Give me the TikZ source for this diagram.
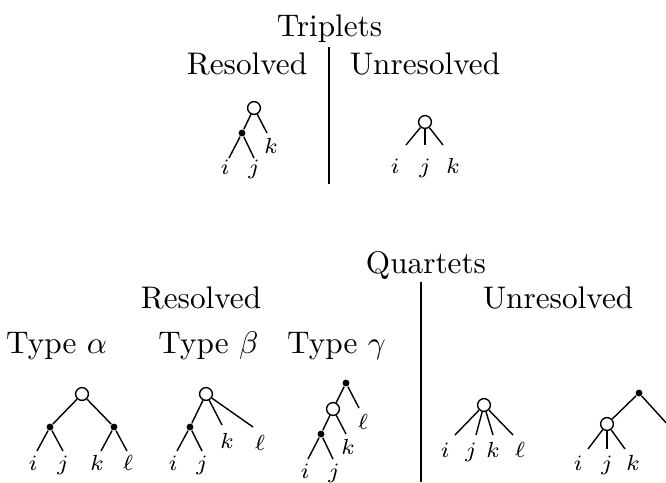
\documentclass[tikz,border=0pt]{standalone}
\tikzset{
  open/.style={circle,draw,fill=white,inner sep=0pt,minimum size=4.1pt,line width=0.45pt},
  tdot/.style={circle,fill=black,inner sep=0pt,minimum size=2.2pt},
  heading/.style={anchor=base,inner sep=0pt,font=\normalsize},
  leaflab/.style={anchor=base,inner sep=0pt,font=\scriptsize},
  branch/.style={line width=0.45pt},
  divider/.style={line width=0.4pt},
}
\begin{document}
\begin{tikzpicture}[x=0.32pt,y=-0.32pt]
\clip (0,0) rectangle (666,482);
% ---------- Triplets ----------
\node[heading] (triplets) at (329.5,36) {Triplets};
\node[heading] (tres) at (247,74) {Resolved};
\node[heading] (tunres) at (425,74) {Unresolved};
\coordinate (tdivA) at (329,47);
\coordinate (tdivB) at (329,184);
\draw[divider] (tdivA) -- (tdivB);
% resolved triplet
\node[open] (tr) at (254,108) {};
\node[tdot] (ta) at (242,133) {};
\coordinate (ti) at (229,158);
\coordinate (tj) at (254,158);
\coordinate (tk) at (267,133);
\draw[branch] (tr) -- (ta);
\draw[branch] (ta) -- (ti);
\draw[branch] (ta) -- (tj);
\draw[branch] (tr) -- (tk);
\node[leaflab] (lti) at (225,174) {$i$};
\node[leaflab] (ltj) at (254,174) {$j$};
\node[leaflab] (ltk) at (271,153) {$k$};
% unresolved triplet
\node[open] (ur) at (425,122) {};
\coordinate (ui) at (406,145);
\coordinate (uj) at (425,145);
\coordinate (uk) at (443,145);
\draw[branch] (ur) -- (ui);
\draw[branch] (ur) -- (uj);
\draw[branch] (ur) -- (uk);
\node[leaflab] (lui) at (395,173) {$i$};
\node[leaflab] (luj) at (425,173) {$j$};
\node[leaflab] (luk) at (453,173) {$k$};
% ---------- Quartets ----------
\node[heading] (quartets) at (426,273) {Quartets};
\node[heading] (qres) at (201,308) {Resolved};
\node[heading] (qunres) at (558,308) {Unresolved};
\node[heading] (typea) at (56.5,353) {Type $\alpha$};
\node[heading] (typeb) at (208.5,353) {Type $\beta$};
\node[heading] (typec) at (336.5,353) {Type $\gamma$};
\coordinate (qdivA) at (421,282);
\coordinate (qdivB) at (421,482);
\draw[divider] (qdivA) -- (qdivB);
% type alpha
\node[open] (ar) at (82,394) {};
\node[tdot] (al) at (50,427) {};
\node[tdot] (aR) at (114,427) {};
\coordinate (ai) at (37,451);
\coordinate (aj) at (63,451);
\coordinate (ak) at (101,451);
\coordinate (aell) at (127,451);
\draw[branch] (ar) -- (al);
\draw[branch] (ar) -- (aR);
\draw[branch] (al) -- (ai);
\draw[branch] (al) -- (aj);
\draw[branch] (aR) -- (ak);
\draw[branch] (aR) -- (aell);
\node[leaflab] (lai) at (33,470) {$i$};
\node[leaflab] (laj) at (63,470) {$j$};
\node[leaflab] (lak) at (97,470) {$k$};
\node[leaflab] (lal) at (128,470) {$\ell$};
% type beta
\node[open] (br) at (206,394) {};
\node[tdot] (bd) at (190,427) {};
\coordinate (bi) at (177,451);
\coordinate (bj) at (202,451);
\coordinate (bk) at (222,425);
\coordinate (bell) at (253,427);
\draw[branch] (br) -- (bd);
\draw[branch] (bd) -- (bi);
\draw[branch] (bd) -- (bj);
\draw[branch] (br) -- (bk);
\draw[branch] (br) -- (bell);
\node[leaflab] (lbi) at (173,470) {$i$};
\node[leaflab] (lbj) at (202,470) {$j$};
\node[leaflab] (lbk) at (227,448) {$k$};
\node[leaflab] (lbl) at (260,450) {$\ell$};
% type gamma
\node[tdot] (gt) at (346,383) {};
\node[open] (gc) at (333,409) {};
\node[tdot] (gd) at (321,434) {};
\coordinate (gell) at (359,408);
\coordinate (gk) at (346,434);
\coordinate (gi) at (308,459);
\coordinate (gj) at (333,459);
\draw[branch] (gt) -- (gc);
\draw[branch] (gt) -- (gell);
\draw[branch] (gc) -- (gd);
\draw[branch] (gc) -- (gk);
\draw[branch] (gd) -- (gi);
\draw[branch] (gd) -- (gj);
\node[leaflab] (lgl) at (363,429) {$\ell$};
\node[leaflab] (lgk) at (348,454) {$k$};
\node[leaflab] (lgi) at (305,478) {$i$};
\node[leaflab] (lgj) at (334,478) {$j$};
% unresolved star
\node[open] (sr) at (484,405) {};
\coordinate (si) at (455,435);
\coordinate (sj) at (476,435);
\coordinate (sk) at (493,435);
\coordinate (sell) at (513,435);
\draw[branch] (sr) -- (si);
\draw[branch] (sr) -- (sj);
\draw[branch] (sr) -- (sk);
\draw[branch] (sr) -- (sell);
\node[leaflab] (lsi) at (445,457) {$i$};
\node[leaflab] (lsj) at (471,457) {$j$};
\node[leaflab] (lsk) at (493,457) {$k$};
\node[leaflab] (lsl) at (520,457) {$\ell$};
% unresolved partly resolved
\node[tdot] (pt) at (639,393) {};
\node[open] (pc) at (607,424) {};
\coordinate (pi) at (588,449);
\coordinate (pj) at (607,449);
\coordinate (pk) at (625,449);
\coordinate (pout) at (689,448);
\draw[branch] (pt) -- (pc);
\draw[branch] (pt) -- (pout);
\draw[branch] (pc) -- (pi);
\draw[branch] (pc) -- (pj);
\draw[branch] (pc) -- (pk);
\node[leaflab] (lpi) at (578,470) {$i$};
\node[leaflab] (lpj) at (607,470) {$j$};
\node[leaflab] (lpk) at (633,470) {$k$};
\end{tikzpicture}
\end{document}
